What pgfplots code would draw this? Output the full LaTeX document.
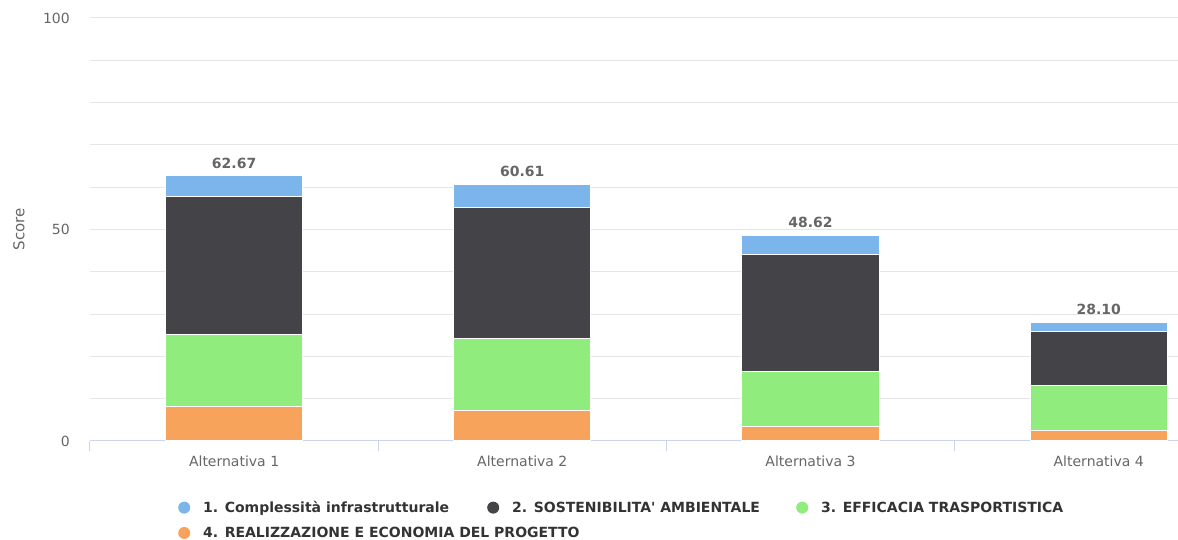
\documentclass[border=0pt]{standalone}
\usepackage{fontspec}
\setmainfont{DejaVu Sans}
\usepackage{pgfplots}
\pgfplotsset{compat=1.18}

\definecolor{cblue}{HTML}{7CB5EC}
\definecolor{cdark}{HTML}{434348}
\definecolor{cgreen}{HTML}{90ED7D}
\definecolor{corange}{HTML}{F7A35C}
\definecolor{axisc}{HTML}{CCD6EB}
\definecolor{gridc}{HTML}{E6E6E6}
\definecolor{tickc}{HTML}{666666}
\definecolor{legc}{HTML}{333333}

\newcommand{\fs}{\fontsize{14}{17}\selectfont}

\begin{document}
\begin{tikzpicture}
\useasboundingbox (-90pt,-99pt) rectangle (1088pt,441pt);
\begin{axis}[
    at={(0,0)}, anchor=south west,
    scale only axis,
    width=1088pt, height=423pt,
    ybar stacked,
    bar width=0.476,
    xmin=-0.5, xmax=3.275,
    ymin=0, ymax=100,
    axis x line*=bottom,
    axis y line*=left,
    x axis line style={-, draw=axisc, line width=1pt},
    y axis line style={draw=none},
    /pgf/number format/assume math mode=true,
    ytick={0,50,100},
    minor ytick={10,20,30,40,60,70,80,90},
    ymajorgrids, yminorgrids,
    major grid style={draw=gridc, line width=1pt},
    minor grid style={draw=gridc, line width=1pt},
    ytick style={draw=none},
    minor tick length=0pt,
    yticklabel style={font=\fs, text=tickc, anchor=east, inner sep=0pt, xshift=-10pt},
    xtick={-0.5,0.5,1.5,2.5},
    xticklabels={},
    tick align=outside,
    major tick length=10pt,
    xtick style={draw=axisc, line width=1pt},
    extra x ticks={0,1,2,3},
    extra x tick labels={Alternativa 1,Alternativa 2,Alternativa 3,Alternativa 4},
    extra x tick style={grid=none, major tick length=0pt,
        xticklabel style={font=\fs, text=tickc, anchor=north, inner sep=0pt, yshift=-15pt}},
    ylabel={Score},
    every axis y label/.style={at={(axis description cs:-0.0653,0.5)}, rotate=90,
        anchor=center, font=\fontsize{15}{18}\selectfont, text=tickc},
    legend image code/.code={\fill[#1, draw=none] (0pt,0pt) circle (6pt);},
    legend style={at={(axis description cs:0.0809,-0.142)}, anchor=north west,
        draw=none, fill=none, inner sep=0pt, font=\fs\bfseries, text=legc,
        nodes={inner sep=0pt}, column sep=13pt, row sep=13pt},
    legend columns=3,
    reverse legend,
]
\addplot[fill=corange, draw=white, line width=1pt] coordinates {(0,8.1) (1,7.2) (2,3.5) (3,2.6)};
\addplot[fill=cgreen, draw=white, line width=1pt] coordinates {(0,17.1) (1,17.05) (2,13.0) (3,10.6)};
\addplot[fill=cdark, draw=white, line width=1pt] coordinates {(0,32.5) (1,31.05) (2,27.6) (3,12.6)};
% stacked labels sit at the segment middle: lift them by half the segment (4.23pt per unit)
\addplot[fill=cblue, draw=white, line width=1pt,
    point meta=explicit symbolic,
    visualization depends on={rawy \as \segh},
    nodes near coords,
    every node near coord/.style={font=\fs\bfseries, text=tickc, anchor=south,
        inner sep=0pt, yshift={\segh*2.115pt+7pt}}]
    coordinates {(0,4.97) [62.67] (1,5.31) [60.61] (2,4.52) [48.62] (3,2.3) [28.10]};
\legend{\makebox[271pt][l]{4. REALIZZAZIONE E ECONOMIA DEL PROGETTO},
    \makebox[271pt][l]{3. EFFICACIA TRASPORTISTICA},
    \makebox[271pt][l]{2. SOSTENIBILITA\textquotesingle\ AMBIENTALE},
    \makebox[271pt][l]{1. Complessità infrastrutturale}}
\end{axis}
\end{tikzpicture}
\end{document}
